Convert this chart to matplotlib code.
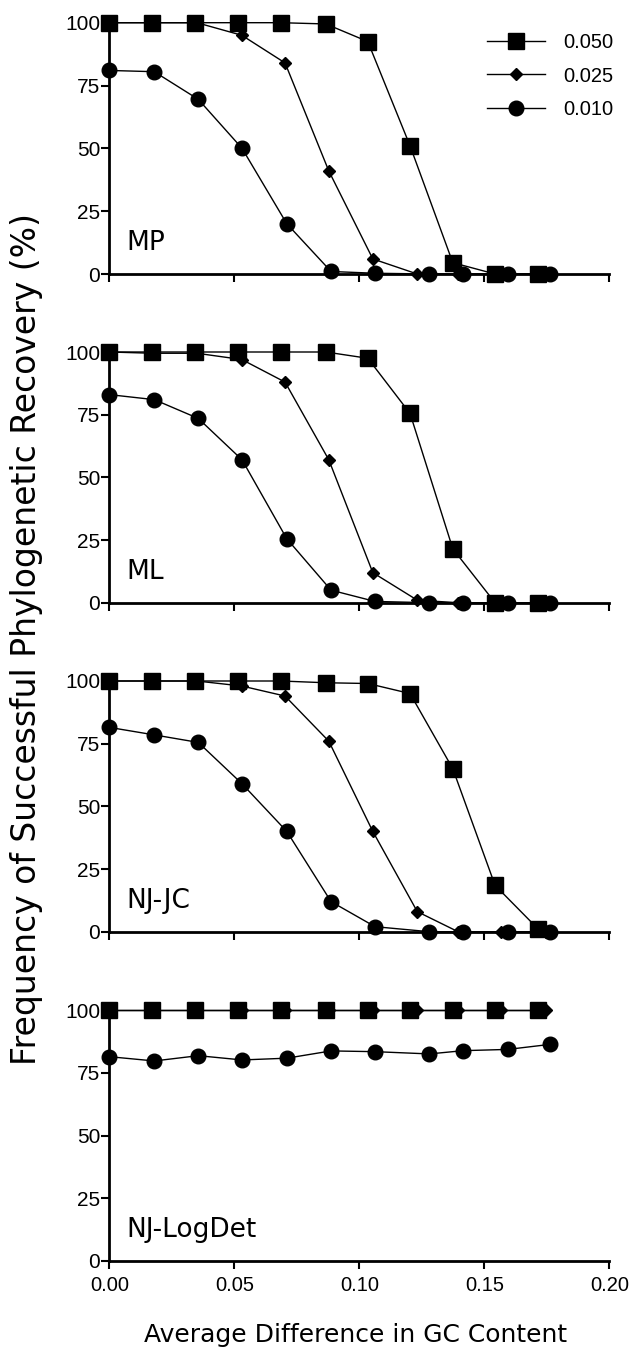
import matplotlib
matplotlib.use("Agg")
import matplotlib.pyplot as plt

# ---- data ----
x_050 = [0, 0.0172, 0.0343, 0.0516, 0.0686, 0.0866, 0.1034, 0.1203, 0.1374, 0.1543, 0.1716]
x_025 = [0, 0.0175, 0.0350, 0.0530, 0.0703, 0.0878, 0.1054, 0.1232, 0.1395, 0.1565, 0.1745]
x_010 = [0, 0.0180, 0.0356, 0.0531, 0.0710, 0.0887, 0.1063, 0.1280, 0.1416, 0.1594, 0.1763]

series_labels = ["0.050", "0.025", "0.010"]
panel_names = ["MP", "ML", "NJ-JC", "NJ-LogDet"]

mp_050 = [100, 100, 100, 100, 100, 99.5, 92.5, 51, 4.5, 0, 0]
mp_025 = [100, 100, 100, 95, 84, 41, 6, 0, 0, 0, 0]
mp_010 = [81, 80.5, 69.5, 50, 20, 1, 0.3, 0, 0, 0, 0]

ml_050 = [100, 100, 100, 100, 100, 100, 97.5, 75.5, 21.5, 0, 0]
ml_025 = [100, 99.5, 99.5, 97, 88, 57, 12, 1, 0, 0, 0]
ml_010 = [83, 81, 73.5, 57, 25.5, 5, 0.5, 0, 0, 0, 0]

njjc_050 = [100, 100, 100, 100, 100, 99.3, 99, 95, 65, 18.5, 1]
njjc_025 = [100, 100, 100, 98, 94, 76, 40, 8, 0, 0, 0]
njjc_010 = [81.5, 78.5, 75.5, 59, 40, 12, 2, 0, 0, 0, 0]

njld_050 = [100, 100, 100, 100, 100, 100, 100, 100, 100, 100, 100]
njld_025 = [100, 100, 100, 100, 100, 100, 100, 100, 100, 100, 100]
njld_010 = [81.4, 79.7, 81.8, 80.1, 80.8, 83.7, 83.4, 82.5, 83.8, 84.3, 86.3]

panels = [
    (mp_050, mp_025, mp_010),
    (ml_050, ml_025, ml_010),
    (njjc_050, njjc_025, njjc_010),
    (njld_050, njld_025, njld_010),
]
x_values = [x_050, x_025, x_010]

xticks = [0.0, 0.05, 0.10, 0.15, 0.20]
xticklabels = ["0.00", "0.05", "0.10", "0.15", "0.20"]
yticks = [0, 25, 50, 75, 100]

# ---- style ----
W, H = 633, 1350
fig = plt.figure(figsize=(W / 100, H / 100), dpi=100)
tick_font = "Liberation Sans"
label_font = "DejaVu Sans"

markers = [("s", 11.0), ("D", 6.2), ("o", 10.5)]

# axes pixel geometry (top, bottom)
left_px, right_px = 109.3, 609.3
rows = [(22.7, 274.0), (352.0, 602.7), (681.0, 931.7), (1010.0, 1261.0)]

axes = []
for i, (top, bot) in enumerate(rows):
    ax = fig.add_axes([left_px / W, 1 - bot / H, (right_px - left_px) / W, (bot - top) / H])
    axes.append(ax)
    for xs, ys, (m, ms), lab in zip(x_values, panels[i], markers, series_labels):
        ax.plot(xs, ys, color="black", lw=1.0, marker=m, markersize=ms,
                markerfacecolor="black", markeredgecolor="black", clip_on=False, label=lab)
    ax.set_xlim(0, 0.20)
    ax.set_ylim(0, 100)
    for s in ["top", "right"]:
        ax.spines[s].set_visible(False)
    for s in ["left", "bottom"]:
        ax.spines[s].set_linewidth(2.0)
    ax.set_xticks(xticks)
    ax.set_yticks(yticks)
    ax.tick_params(axis="y", direction="out", length=5.5, width=1.5, pad=1,
                   labelsize=15)
    ax.tick_params(axis="x", direction="out", length=5.5, width=1.5, pad=5,
                   labelsize=14.5)
    for t in ax.get_yticklabels():
        t.set_fontfamily(tick_font)
    if i < 3:
        ax.set_xticklabels([])
    else:
        ax.set_xticklabels(xticklabels, fontfamily=tick_font)
    ax.text(0.035, 0.095, panel_names[i], transform=ax.transAxes,
            fontsize=19, fontfamily=label_font, ha="left", va="baseline")

leg = axes[0].legend(loc="upper left", bbox_to_anchor=(487 / W, 1 - 33 / H),
                     bbox_transform=fig.transFigure, frameon=False,
                     borderaxespad=0, borderpad=0, handlelength=2.9,
                     handletextpad=0.9, labelspacing=0.72,
                     prop={"family": tick_font, "size": 14.5})

fig.text(356 / W, 1 - 1335 / H, "Average Difference in GC Content",
         fontsize=18, fontfamily=label_font, ha="center", va="center")
fig.text(27 / W, 1 - 639 / H, "Frequency of Successful Phylogenetic Recovery (%)",
         fontsize=23.8, fontfamily=label_font, ha="center", va="center", rotation=90)

fig.savefig("out.png", dpi=100)
